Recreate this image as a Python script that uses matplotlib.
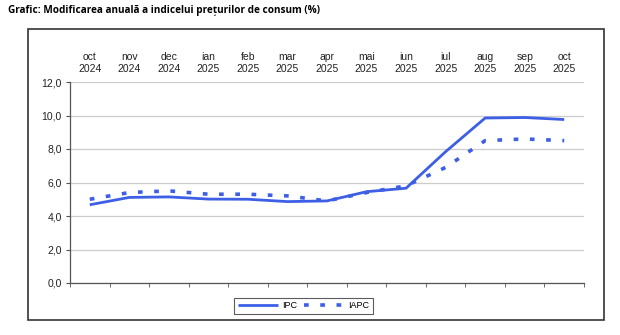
import matplotlib
matplotlib.use("Agg")
import matplotlib.pyplot as plt
from matplotlib.patches import Rectangle

months = ["oct\n2024", "nov\n2024", "dec\n2024", "ian\n2025", "feb\n2025", "mar\n2025",
          "apr\n2025", "mai\n2025", "iun\n2025", "iul\n2025", "aug\n2025", "sep\n2025", "oct\n2025"]
ipc = [4.67, 5.11, 5.14, 5.01, 5.0, 4.86, 4.9, 5.45, 5.66, 7.84, 9.85, 9.88, 9.76]
iapc = [5.0, 5.4, 5.5, 5.3, 5.3, 5.2, 4.9, 5.4, 5.8, 6.9, 8.5, 8.6, 8.5]
yticks = [0, 2, 4, 6, 8, 10, 12]
title = "Grafic: Modificarea anuală a indicelui prețurilor de consum (%)"

plt.rcParams['font.family'] = ['Liberation Sans', 'DejaVu Sans']
color = "#3d5fe6"

fig = plt.figure(figsize=(6.2, 3.35), dpi=100)
ax = fig.add_axes([70/620, 1-283/335, 514/620, 201/335])

x = list(range(len(months)))
ax.plot(x, ipc, color=color, lw=2.0, label="IPC", solid_capstyle='butt')
ax.plot(x, iapc, color=color, lw=2.6, label="IAPC", linestyle=(0, (1.3, 3.2)), dash_capstyle='butt')

ax.set_xlim(-0.5, len(months) - 0.5)
ax.set_ylim(0, 12)
ax.set_yticks(yticks)
ax.set_yticklabels([f"{v:.1f}".replace(".", ",") for v in yticks], fontsize=7.5, color="#222222")
ax.yaxis.grid(True, color="#cccccc", lw=0.9)
ax.set_axisbelow(True)

ax.set_xticks(x)
ax.set_xticklabels(months, fontsize=7.5, color="#222222", linespacing=1.15)
ax.xaxis.set_ticks_position('top')
ax.tick_params(axis='x', which='major', length=0, pad=6)
ax.set_xticks([i - 0.5 for i in range(len(months) + 1)], minor=True)
ax.tick_params(axis='x', which='minor', bottom=True, top=False, length=3, color="#555555")
ax.tick_params(axis='y', length=3, color="#555555", pad=3)

for s in ['top', 'right']:
    ax.spines[s].set_visible(False)
for s in ['left', 'bottom']:
    ax.spines[s].set_color("#555555")
    ax.spines[s].set_linewidth(0.9)

leg = ax.legend(loc='center', bbox_to_anchor=(303.5/620, 1-306/335), bbox_transform=fig.transFigure,
                ncol=2, fontsize=6.5, frameon=True, fancybox=False, handlelength=4.5,
                columnspacing=0.8, handletextpad=0.4, borderpad=0.35)
leg.get_frame().set_edgecolor("#333333")
leg.get_frame().set_linewidth(0.8)

fig.patches.append(Rectangle((28/620, 1-320/335), (604-28)/620, (320-29)/335,
                             transform=fig.transFigure, fill=False, edgecolor="#333333", lw=1.2))
fig.text(8/620, 1-11/335, title, fontsize=7.2, fontweight='bold', va='center', ha='left',
         family=['Open Sans', 'DejaVu Sans'])

fig.savefig("out.png", dpi=100)
